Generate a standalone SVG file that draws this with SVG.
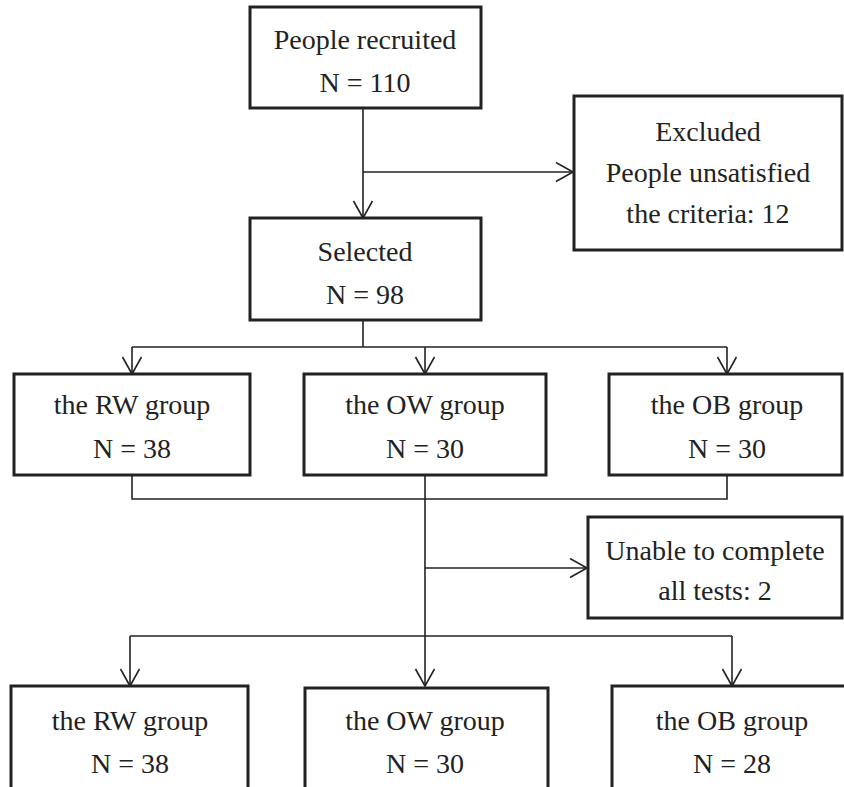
<svg xmlns="http://www.w3.org/2000/svg" width="844" height="787" viewBox="0 0 844 787">
<style>
.box{fill:#fff;stroke:#222;stroke-width:3}
.t{font-family:"Liberation Serif","Times New Roman",serif;font-size:28px;fill:#222;text-anchor:middle}
.c{fill:none;stroke:#222;stroke-width:1.6}
</style>
<defs>
<marker id="a" markerWidth="20" markerHeight="22" refX="18" refY="10" orient="auto" markerUnits="userSpaceOnUse">
<path d="M1,0.5 L18,10 L1,19.5" fill="none" stroke="#222" stroke-width="1.6"/>
</marker>
</defs>
<rect width="844" height="787" fill="#fff"/>
<g id="connectors">
<path class="c" d="M363,108 V218" marker-end="url(#a)"/>
<path class="c" d="M363,172 H573" marker-end="url(#a)"/>
<path class="c" d="M363,320 V347"/>
<path class="c" d="M132,347 H727"/>
<path class="c" d="M132,347 V374" marker-end="url(#a)"/>
<path class="c" d="M425,347 V374" marker-end="url(#a)"/>
<path class="c" d="M727,347 V374" marker-end="url(#a)"/>
<path class="c" d="M132,475 V499 H727 V475"/>
<path class="c" d="M425,475 V686" marker-end="url(#a)"/>
<path class="c" d="M425,568 H587" marker-end="url(#a)"/>
<path class="c" d="M130,636 H732"/>
<path class="c" d="M130,636 V686" marker-end="url(#a)"/>
<path class="c" d="M732,636 V686" marker-end="url(#a)"/>
</g>
<g id="recruited">
<rect class="box" x="250" y="7" width="231" height="101"/>
<text class="t" x="365" y="49">People recruited</text>
<text class="t" x="365" y="92">N = 110</text>
</g>
<g id="excluded">
<rect class="box" x="574" y="96" width="268" height="154"/>
<text class="t" x="708" y="141">Excluded</text>
<text class="t" x="708" y="182">People unsatisfied</text>
<text class="t" x="708" y="223">the criteria: 12</text>
</g>
<g id="selected">
<rect class="box" x="250" y="218" width="231" height="102"/>
<text class="t" x="365" y="261">Selected</text>
<text class="t" x="365" y="304">N = 98</text>
</g>
<g id="rw1">
<rect class="box" x="14" y="374" width="236" height="101"/>
<text class="t" x="132" y="414">the RW group</text>
<text class="t" x="132" y="458">N = 38</text>
</g>
<g id="ow1">
<rect class="box" x="304" y="374" width="242" height="101"/>
<text class="t" x="425" y="414">the OW group</text>
<text class="t" x="425" y="458">N = 30</text>
</g>
<g id="ob1">
<rect class="box" x="609" y="374" width="233" height="101"/>
<text class="t" x="727" y="414">the OB group</text>
<text class="t" x="727" y="458">N = 30</text>
</g>
<g id="unable">
<rect class="box" x="588" y="517" width="254" height="101"/>
<text class="t" x="715" y="560">Unable to complete</text>
<text class="t" x="715" y="600">all tests: 2</text>
</g>
<g id="rw2">
<rect class="box" x="11" y="686" width="237" height="110"/>
<text class="t" x="130" y="730">the RW group</text>
<text class="t" x="130" y="773">N = 38</text>
</g>
<g id="ow2">
<rect class="box" x="305" y="688" width="243" height="110"/>
<text class="t" x="425" y="730">the OW group</text>
<text class="t" x="425" y="773">N = 30</text>
</g>
<g id="ob2">
<rect class="box" x="612" y="686" width="240" height="110"/>
<text class="t" x="732" y="730">the OB group</text>
<text class="t" x="732" y="773">N = 28</text>
</g>
</svg>
